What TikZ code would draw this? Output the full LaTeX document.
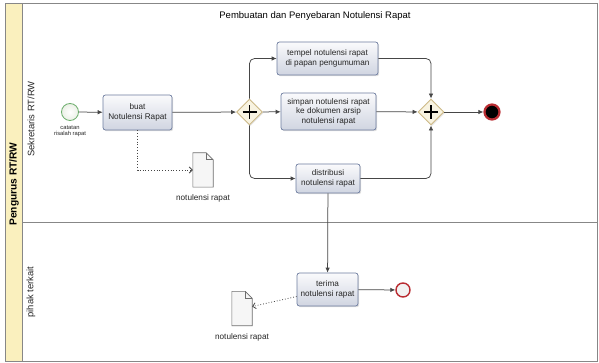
\documentclass[tikz,border=0pt]{standalone}
\usepackage{fontspec}
\setmainfont{Liberation Sans}
\usetikzlibrary{shapes.geometric,arrows.meta,shadows,calc,positioning}

\definecolor{laneline}{RGB}{135,135,135}
\definecolor{poolfill}{RGB}{250,240,190}
\definecolor{taskdraw}{RGB}{110,125,160}
\definecolor{tasktop}{RGB}{250,250,252}
\definecolor{taskbot}{RGB}{208,213,225}
\definecolor{gwfill}{RGB}{248,243,225}
\definecolor{gwdraw}{RGB}{205,185,135}
\definecolor{startdraw}{RGB}{110,175,110}
\definecolor{startfill}{RGB}{235,240,230}
\definecolor{enddraw}{RGB}{185,45,50}
\definecolor{flow}{RGB}{70,70,70}
\definecolor{docfill}{RGB}{246,246,246}
\definecolor{docdraw}{RGB}{110,110,110}

\tikzset{
  txt/.style={font=\fontsize{8.2}{9.6}\selectfont, text=black!85},
  task/.style={txt, rectangle, rounded corners=2.5pt, draw=taskdraw, line width=0.7pt,
    top color=tasktop, bottom color=taskbot, align=center, inner sep=1pt,
    drop shadow={shadow xshift=1.2pt, shadow yshift=-1.2pt, opacity=0.25}},
  gateway/.style={diamond, aspect=1, draw=gwdraw, fill=gwfill, line width=0.9pt,
    minimum width=26pt, minimum height=26pt, inner sep=0pt,
    drop shadow={shadow xshift=1pt, shadow yshift=-1pt, opacity=0.2}},
  startev/.style={circle, draw=startdraw, line width=0.8pt, inner color=white,
    outer color=startfill, minimum size=17pt, inner sep=0pt},
  endev/.style={circle, draw=enddraw, fill=black, line width=2.2pt, minimum size=15pt, inner sep=0pt},
  endev2/.style={circle, draw=enddraw, fill=black!5, line width=1.4pt, minimum size=14pt, inner sep=0pt},
  docbox/.style={rectangle, draw=none, minimum width=20pt, minimum height=34pt, inner sep=0pt},
  flowline/.style={draw=flow, line width=0.75pt, -{Latex[length=5pt,width=4.5pt]}, rounded corners=5pt},
  assoc/.style={draw=flow, line width=0.8pt, dotted, -{Straight Barb[length=3pt,width=6pt]}},
  small/.style={font=\fontsize{5.8}{6.6}\selectfont, text=black!85, align=center},
  lanelabel/.style={font=\fontsize{9.4}{11}\selectfont, text=black!85, rotate=90},
}

\newcommand{\docshape}[1]{%
  \draw[draw=docdraw, fill=docfill, line width=0.6pt]
    (#1.north west) -- ($(#1.north east)+(-7pt,0)$) -- ($(#1.north east)+(0,-7pt)$)
    -- (#1.south east) -- (#1.south west) -- cycle;
  \draw[draw=docdraw, line width=0.6pt]
    ($(#1.north east)+(-7pt,0)$) |- ($(#1.north east)+(0,-7pt)$);
}

\begin{document}
\begin{tikzpicture}[x=1pt,y=-1pt]
\useasboundingbox (0,0) rectangle (599,363);

% pool frame and lanes
\fill[white] (5,4) rectangle (597,361);
\filldraw[fill=poolfill, draw=laneline, line width=1pt] (5,4) rectangle (22,361);
\draw[laneline, line width=1pt] (5,4) rectangle (597,361);
\draw[laneline, line width=1pt] (22,223) -- (597,223);

\node[font=\bfseries\fontsize{10.2}{12}\selectfont, rotate=90] (pool) at (14,184) {Pengurus RT/RW};
\node[lanelabel] (lane1) at (31,119) {Sekretaris RT/RW};
\node[lanelabel] (lane2) at (31,292) {pihak terkait};

\node[font=\fontsize{9.5}{11}\selectfont] (title) at (315,16) {Pembuatan dan Penyebaran Notulensi Rapat};

% events, tasks and gateways
\node[startev] (s) at (70,112) {};
\node[small, below=1pt of s] (slbl) {catatan\\risalah rapat};

\node[task, minimum width=69pt, minimum height=35pt] (t0) at (137.5,112.5) {buat\\Notulensi Rapat};
\node[gateway] (g1) at (249.5,112) {};
\node[task, minimum width=101pt, minimum height=33pt] (t1) at (327.5,58.5) {tempel notulensi rapat\\di papan pengumuman};
\node[task, minimum width=95pt, minimum height=37pt] (t2) at (328.5,111.5) {simpan notulensi rapat\\ke dokumen arsip\\notulensi rapat};
\node[task, minimum width=64pt, minimum height=29pt] (t3) at (328,178.5) {distribusi\\notulensi rapat};
\node[gateway] (g2) at (431,112) {};
\node[endev] (e1) at (492,112) {};

\node[task, minimum width=61pt, minimum height=33pt] (t5) at (327.5,289.5) {terima\\notulensi rapat};
\node[endev2] (e2) at (403,290) {};

% parallel gateway markers
\foreach \g in {g1,g2}{
  \draw[black, line width=1.3pt] ($(\g.center)+(-7pt,0)$) -- ($(\g.center)+(7pt,0)$);
  \draw[black, line width=1.3pt] ($(\g.center)+(0,-7pt)$) -- ($(\g.center)+(0,7pt)$);
}

% data objects
\node[docbox] (d1) at (203,170) {};
\docshape{d1}
\node[txt, below=4pt of d1] (d1lbl) {notulensi rapat};
\node[docbox] (d2) at (242,308.5) {};
\docshape{d2}
\node[txt, below=4pt of d2] (d2lbl) {notulensi rapat};

% sequence flows
\draw[flowline] (s) -- (t0);
\draw[flowline] (t0) -- (g1);
\draw[flowline] (g1.north) |- (t1.west);
\draw[flowline] (g1) -- (t2);
\draw[flowline] (g1.south) |- (t3.west);
\draw[flowline] (t1.east) -| (g2.north);
\draw[flowline] (t2) -- (g2);
\draw[flowline] (t3.east) -| (g2.south);
\draw[flowline] (g2) -- (e1);
\draw[flowline] (t3) -- (t5);
\draw[flowline] (t5) -- (e2);

% associations
\draw[assoc] (t0.south) |- (d1.west);
\draw[assoc] ([yshift=-7pt]t5.west) -- ([yshift=2pt]d2.east);

\end{tikzpicture}
\end{document}
